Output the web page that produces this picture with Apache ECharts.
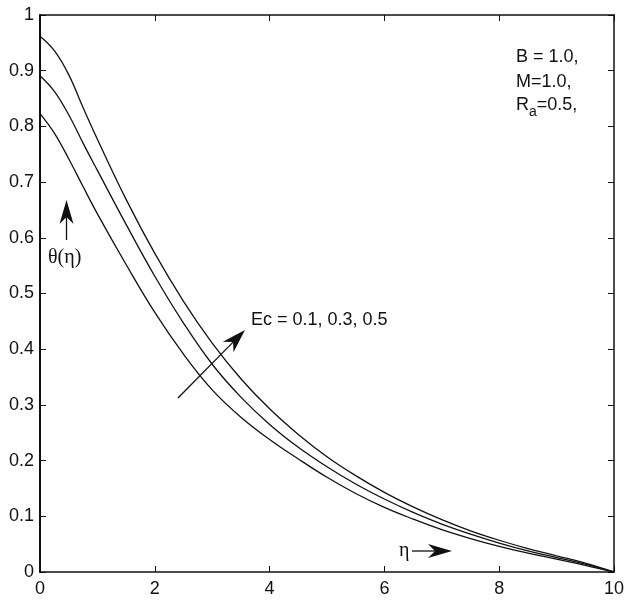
<!DOCTYPE html>
<html>
<head>
<meta charset="utf-8">
<script src="https://cdn.jsdelivr.net/npm/echarts@6/dist/echarts.min.js"></script>
<style>html,body{margin:0;padding:0;background:#fff;}#c{width:627px;height:602px;}</style>
</head>
<body>
<div id="c"></div>
<script>
var eta = [0,0.25,0.5,0.75,1,1.5,2,2.5,3,3.5,4,4.5,5,5.5,6,6.5,7,7.5,8,8.5,9,9.5,10];
var thetaEc01 = [0.823,0.788,0.742,0.692,0.643,0.552,0.466,0.391,0.327,0.278,0.238,0.203,0.170,0.141,0.116,0.095,0.076,0.060,0.046,0.034,0.023,0.012,0];
var thetaEc03 = [0.891,0.863,0.821,0.770,0.721,0.624,0.531,0.447,0.373,0.314,0.265,0.224,0.189,0.158,0.131,0.107,0.086,0.068,0.052,0.038,0.026,0.014,0];
var thetaEc05 = [0.962,0.936,0.893,0.834,0.777,0.669,0.572,0.486,0.411,0.347,0.293,0.247,0.207,0.173,0.143,0.117,0.094,0.074,0.057,0.042,0.029,0.016,0];
var xTicks = [0,2,4,6,8,10];
var yTicks = [0,0.1,0.2,0.3,0.4,0.5,0.6,0.7,0.8,0.9,1];

function pairs(v){ return eta.map(function(x,i){ return [x, v[i]]; }); }

function arrow(tail, tip, headLen, halfW, notch){
  var dx = tip[0]-tail[0], dy = tip[1]-tail[1];
  var L = Math.sqrt(dx*dx+dy*dy); var ux = dx/L, uy = dy/L; var px = -uy, py = ux;
  var bx = tip[0]-ux*headLen, by = tip[1]-uy*headLen;
  var nx = tip[0]-ux*notch, ny = tip[1]-uy*notch;
  return [
    {type:'line', shape:{x1:tail[0],y1:tail[1],x2:nx,y2:ny}, style:{stroke:'#111',lineWidth:1.3}},
    {type:'polygon', shape:{points:[[tip[0],tip[1]],[bx+px*halfW,by+py*halfW],[nx,ny],[bx-px*halfW,by-py*halfW]]}, style:{fill:'#111'}}
  ];
}

var lineStyle = {color:'#111', width:1.3};
var sans = 'Liberation Sans, Arial, sans-serif';
var serif = 'Liberation Serif, Times New Roman, serif';

var graphics = []
  .concat(arrow([178,398],[245,330],24,7.5,17))
  .concat(arrow([66.5,240],[66.5,200],24,7,17))
  .concat(arrow([412,551],[452,551],24,7,17))
  .concat([
    {type:'text', left:251, top:311, style:{text:'Ec = 0.1, 0.3, 0.5', font:'18px '+sans, fill:'#111'}},
    {type:'text', left:48, top:248, style:{text:'θ(η)', font:'20px '+serif, fill:'#111'}},
    {type:'text', left:399, top:541, style:{text:'η', font:'20px '+serif, fill:'#111'}},
    {type:'text', left:516, top:48, style:{text:'B = 1.0,', font:'18px '+sans, fill:'#111'}},
    {type:'text', left:516, top:73, style:{text:'M=1.0,', font:'18px '+sans, fill:'#111'}},
    {type:'text', left:516, top:93, style:{
      text:'{r|R}{s|a}{r|=0.5,}',
      rich:{ r:{font:'18px '+sans, fill:'#111', verticalAlign:'top', lineHeight:20},
             s:{font:'14px '+sans, fill:'#111', padding:[12,0,0,0], lineHeight:20} } }}
  ]);

var chart = echarts.init(document.getElementById('c'), null, {renderer:'canvas'});
chart.setOption({
  animation:false,
  backgroundColor:'#fff',
  grid:{left:40, right:11, top:15, bottom:30, containLabel:false},
  xAxis:[
    {type:'value', min:0, max:10, interval:2, position:'bottom',
     axisLine:{show:true, onZero:false, lineStyle:{color:'#111', width:1.5}},
     axisTick:{show:true, inside:true, length:6, lineStyle:{color:'#111'}},
     axisLabel:{color:'#111', fontSize:18, fontFamily:sans, margin:8},
     splitLine:{show:false}},
    {type:'value', min:0, max:10, interval:2, position:'top',
     axisLine:{show:true, onZero:false, lineStyle:{color:'#111', width:1.5}},
     axisTick:{show:true, inside:true, length:6, lineStyle:{color:'#111'}},
     axisLabel:{show:false}, splitLine:{show:false}}
  ],
  yAxis:[
    {type:'value', min:0, max:1, interval:0.1, position:'left',
     axisLine:{show:true, onZero:false, lineStyle:{color:'#111', width:2}},
     axisTick:{show:true, inside:true, length:6, lineStyle:{color:'#111'}},
     axisLabel:{color:'#111', fontSize:18, fontFamily:sans, margin:6},
     splitLine:{show:false}},
    {type:'value', min:0, max:1, interval:0.1, position:'right',
     axisLine:{show:true, onZero:false, lineStyle:{color:'#111', width:1.5}},
     axisTick:{show:true, inside:true, length:6, lineStyle:{color:'#111'}},
     axisLabel:{show:false}, splitLine:{show:false}}
  ],
  series:[
    {type:'line', name:'Ec=0.1', data:pairs(thetaEc01), smooth:0.4, showSymbol:false, lineStyle:lineStyle},
    {type:'line', name:'Ec=0.3', data:pairs(thetaEc03), smooth:0.4, showSymbol:false, lineStyle:lineStyle},
    {type:'line', name:'Ec=0.5', data:pairs(thetaEc05), smooth:0.4, showSymbol:false, lineStyle:lineStyle}
  ],
  graphic:graphics
});
</script>
</body>
</html>
